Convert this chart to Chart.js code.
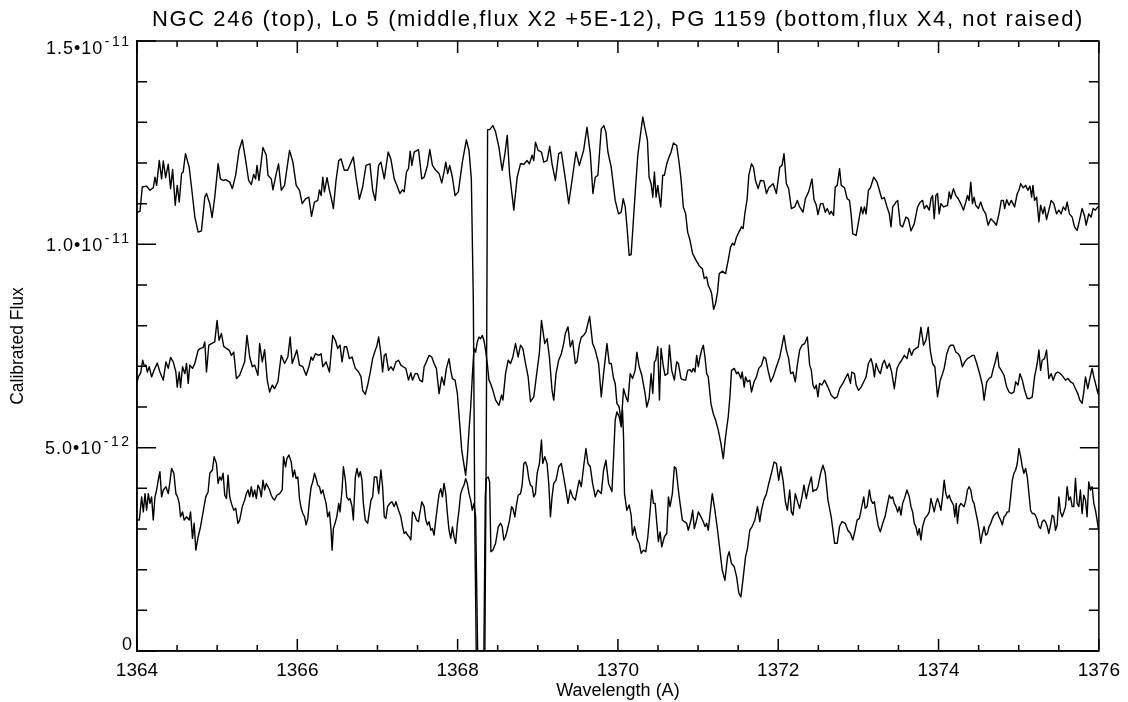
<!DOCTYPE html>
<html><head><meta charset="utf-8">
<script src="https://cdn.jsdelivr.net/npm/chart.js@4.4.1/dist/chart.umd.min.js"></script>
<style>html,body{margin:0;padding:0;background:#fff;}#c{display:block;}</style>
</head><body>
<canvas id="c" width="1128" height="702"></canvas>
<script>
const titleText = 'NGC 246 (top), Lo 5 (middle,flux X2 +5E-12), PG 1159 (bottom,flux X4, not raised)';
const xAxisTitle = 'Wavelength (A)';
const yAxisTitle = 'Calibrated Flux';
const xTickValues = [1364, 1366, 1368, 1370, 1372, 1374, 1376];
const yTickValues = [0, 5, 10, 15];               // flux in units of 1e-12
const yTickMantissa = ['0', '5.0\u202210', '1.0\u202210', '1.5\u202210'];
const yTickExponent = ['', '-12', '-11', '-11'];

// [wavelength (A), flux (1e-12)]
const ngc246 = [
[1364.000,10.79],[1364.037,10.81],[1364.066,11.41],[1364.120,11.43],[1364.162,11.33],[1364.203,11.39],[1364.224,11.65],[1364.245,11.45],[1364.278,12.06],[1364.307,11.61],[1364.328,12.05],[1364.357,11.64],[1364.390,11.97],[1364.419,11.37],[1364.444,11.84],[1364.477,10.96],[1364.502,11.45],[1364.527,11.04],[1364.556,11.74],[1364.576,11.78],[1364.605,12.23],[1364.651,11.90],[1364.680,11.41],[1364.722,10.67],[1364.763,10.30],[1364.804,10.33],[1364.846,11.16],[1364.867,11.25],[1364.908,11.00],[1364.937,10.66],[1364.970,11.16],[1365.012,11.98],[1365.041,11.61],[1365.074,11.57],[1365.107,11.59],[1365.157,11.53],[1365.190,11.37],[1365.231,11.70],[1365.273,12.31],[1365.314,12.57],[1365.356,12.06],[1365.393,11.57],[1365.426,11.47],[1365.455,11.72],[1365.480,11.61],[1365.497,11.94],[1365.522,11.57],[1365.571,12.38],[1365.613,12.19],[1365.634,11.70],[1365.675,11.61],[1365.696,11.34],[1365.737,11.74],[1365.766,11.98],[1365.800,11.33],[1365.841,11.45],[1365.903,12.31],[1365.945,12.02],[1365.986,11.45],[1366.027,11.33],[1366.061,11.00],[1366.102,11.12],[1366.144,11.16],[1366.177,10.69],[1366.214,11.04],[1366.255,11.08],[1366.276,11.34],[1366.297,11.20],[1366.318,11.65],[1366.338,11.29],[1366.371,11.64],[1366.400,11.33],[1366.421,11.16],[1366.450,10.88],[1366.483,11.57],[1366.517,12.06],[1366.546,12.10],[1366.587,11.82],[1366.628,11.82],[1366.699,12.15],[1366.732,11.65],[1366.774,11.11],[1366.815,11.41],[1366.857,11.94],[1366.906,11.98],[1366.940,11.33],[1366.973,11.08],[1367.014,11.94],
[1367.043,12.02],[1367.085,11.61],[1367.134,12.27],[1367.167,12.10],[1367.209,11.61],[1367.250,11.41],[1367.279,11.25],[1367.313,11.34],[1367.333,11.29],[1367.362,11.78],[1367.387,11.86],[1367.408,12.29],[1367.429,11.94],[1367.458,12.27],[1367.512,12.33],[1367.553,11.61],[1367.582,11.65],[1367.624,11.94],[1367.653,12.33],[1367.686,11.94],[1367.727,11.82],[1367.769,11.74],[1367.802,11.51],[1367.831,11.78],[1367.852,12.02],[1367.876,11.74],[1367.901,11.94],[1367.935,11.65],[1367.968,11.20],[1368.009,11.29],[1368.059,12.02],[1368.109,12.57],[1368.142,12.31],[1368.171,11.61],[1368.196,8.60],[1368.215,3.00],[1368.232,0.00],[1368.270,0.00],[1368.310,0.00],[1368.340,0.00],[1368.357,5.00],[1368.374,12.82],[1368.399,12.82],[1368.440,12.92],[1368.474,12.76],[1368.515,12.39],[1368.556,11.82],[1368.590,12.23],[1368.619,12.68],[1368.648,11.74],[1368.701,10.84],[1368.743,11.65],[1368.784,11.98],[1368.826,11.97],[1368.867,12.06],[1368.896,11.98],[1368.929,12.19],[1368.950,12.06],[1368.971,12.51],[1369.004,12.31],[1369.046,12.27],[1369.075,12.02],[1369.116,12.06],[1369.149,12.41],[1369.178,11.98],[1369.220,11.57],[1369.261,12.23],[1369.294,12.27],[1369.344,11.61],[1369.386,11.00],[1369.427,11.57],[1369.477,12.27],[1369.518,11.94],[1369.572,12.31],[1369.614,12.88],[1369.655,12.23],[1369.688,11.25],[1369.717,11.65],[1369.750,11.70],[1369.792,12.84],[1369.825,12.92],[1369.850,12.76],[1369.875,12.27],[1369.916,11.90],[1369.966,11.08],[1370.007,10.75],
[1370.041,10.79],[1370.066,11.12],[1370.091,10.92],[1370.116,10.36],[1370.140,9.73],[1370.165,9.75],[1370.194,10.63],[1370.223,11.49],[1370.248,12.19],[1370.277,12.64],[1370.310,13.13],[1370.339,12.84],[1370.368,12.56],[1370.389,11.65],[1370.414,11.49],[1370.435,11.16],[1370.455,11.78],[1370.476,11.16],[1370.497,11.45],[1370.518,11.12],[1370.534,10.92],[1370.559,11.70],[1370.580,11.70],[1370.609,11.98],[1370.638,12.15],[1370.663,12.27],[1370.692,12.49],[1370.733,12.43],[1370.762,12.02],[1370.787,11.61],[1370.816,10.92],[1370.845,10.75],[1370.870,10.30],[1370.899,10.10],[1370.932,9.77],[1370.974,9.61],[1371.015,9.47],[1371.053,9.40],[1371.077,9.16],[1371.107,9.20],[1371.127,8.99],[1371.156,8.87],[1371.169,8.79],[1371.194,8.40],[1371.218,8.54],[1371.243,8.83],[1371.264,9.28],[1371.301,9.34],[1371.343,9.28],[1371.376,9.61],[1371.405,9.93],[1371.430,10.03],[1371.451,9.98],[1371.480,10.18],[1371.509,10.30],[1371.542,10.43],[1371.562,10.39],[1371.583,10.75],[1371.612,11.12],[1371.633,11.70],[1371.666,11.98],[1371.691,11.90],[1371.716,11.57],[1371.749,11.37],[1371.778,11.57],[1371.820,11.56],[1371.853,11.25],[1371.882,11.39],[1371.936,11.49],[1371.977,11.25],[1372.019,11.90],[1372.048,11.94],[1372.072,12.23],[1372.101,11.49],[1372.130,11.37],[1372.164,10.88],[1372.205,10.92],[1372.238,11.08],[1372.267,10.92],[1372.309,10.79],[1372.338,11.12],[1372.379,11.29],[1372.421,11.61],[1372.446,11.10],[1372.475,10.96],[1372.495,10.73],[1372.528,11.00],[1372.558,11.00],[1372.587,10.79],[1372.611,10.88],[1372.641,10.74],[1372.661,10.81],[1372.690,10.71],[1372.711,11.41],[1372.736,11.45],[1372.765,11.86],[1372.786,11.45],[1372.827,11.39],[1372.860,11.12],
[1372.889,11.08],[1372.909,10.75],[1372.930,10.26],[1372.972,10.22],[1373.005,10.59],[1373.034,10.92],[1373.055,10.75],[1373.075,10.92],[1373.096,10.75],[1373.125,11.33],[1373.150,11.39],[1373.191,11.65],[1373.233,11.53],[1373.262,11.33],[1373.291,11.12],[1373.324,11.15],[1373.357,10.92],[1373.386,10.75],[1373.407,10.43],[1373.428,10.92],[1373.469,11.04],[1373.490,11.08],[1373.523,10.47],[1373.552,10.43],[1373.594,10.67],[1373.623,10.63],[1373.656,10.33],[1373.697,10.51],[1373.739,10.92],[1373.772,11.04],[1373.801,11.08],[1373.822,10.88],[1373.851,10.96],[1373.884,10.84],[1373.905,11.12],[1373.925,11.20],[1373.946,10.63],[1373.967,11.20],[1373.987,11.25],[1374.008,10.75],[1374.029,11.00],[1374.062,10.92],[1374.112,10.96],[1374.133,11.29],[1374.153,11.12],[1374.186,11.37],[1374.215,11.20],[1374.245,11.12],[1374.278,11.00],[1374.311,10.84],[1374.340,11.04],[1374.361,11.20],[1374.381,11.08],[1374.402,11.53],[1374.423,11.00],[1374.443,11.16],[1374.464,10.96],[1374.497,10.88],[1374.526,11.04],[1374.560,10.84],[1374.589,10.75],[1374.618,10.47],[1374.651,10.63],[1374.692,10.55],[1374.721,10.47],[1374.754,10.75],[1374.783,11.08],[1374.808,11.08],[1374.825,10.88],[1374.850,11.10],[1374.879,10.96],[1374.908,11.08],[1374.949,10.92],[1374.982,11.25],[1375.003,11.33],[1375.024,11.49],[1375.057,11.39],[1375.086,11.45],[1375.115,11.33],[1375.140,11.43],[1375.161,11.16],[1375.177,11.45],[1375.198,11.08],[1375.223,11.16],[1375.252,10.55],[1375.273,10.96],[1375.302,10.75],[1375.322,10.92],[1375.347,10.61],[1375.376,10.84],[1375.405,11.08],[1375.438,11.00],[1375.472,10.75],[1375.501,10.84],[1375.530,10.75],[1375.555,10.92],[1375.584,10.84],[1375.604,11.04],[1375.633,10.75],[1375.667,10.67],[1375.696,10.43],[1375.729,10.34],[1375.758,10.59],[1375.791,10.88],[1375.820,10.71],[1375.841,10.47],[1375.874,10.75],[1375.903,10.67],[1375.928,10.88],[1375.957,10.84],[1375.986,10.92],[1376.000,10.90]
];

const lo5 = [
[1364.000,6.60],[1364.017,6.74],[1364.046,6.84],[1364.071,7.15],[1364.087,7.03],[1364.112,7.03],[1364.129,6.86],[1364.153,6.99],[1364.182,6.74],[1364.212,6.90],[1364.253,7.08],[1364.286,6.86],[1364.328,6.66],[1364.361,7.11],[1364.390,6.95],[1364.419,7.22],[1364.452,7.11],[1364.485,6.86],[1364.502,6.49],[1364.527,6.86],[1364.543,6.48],[1364.568,6.99],[1364.597,6.82],[1364.618,7.07],[1364.639,6.58],[1364.659,7.03],[1364.692,6.95],[1364.721,7.07],[1364.763,7.40],[1364.792,7.44],[1364.825,7.46],[1364.846,7.60],[1364.867,6.86],[1364.896,7.52],[1364.929,7.56],[1364.970,7.60],[1364.999,8.13],[1365.024,7.64],[1365.053,7.81],[1365.082,7.49],[1365.116,7.44],[1365.149,7.40],[1365.178,7.27],[1365.207,7.35],[1365.240,6.70],[1365.281,6.78],[1365.343,7.11],[1365.372,7.76],[1365.406,7.23],[1365.439,6.99],[1365.468,7.03],[1365.489,6.90],[1365.509,6.78],[1365.530,7.56],[1365.563,7.11],[1365.592,7.41],[1365.625,6.66],[1365.654,6.37],[1365.688,6.54],[1365.716,6.45],[1365.758,6.62],[1365.799,7.27],[1365.841,7.07],[1365.882,7.23],[1365.911,7.72],[1365.936,7.07],[1365.965,7.23],[1365.994,7.40],[1366.027,7.03],[1366.069,6.99],[1366.110,6.78],[1366.144,6.99],[1366.173,7.23],[1366.193,7.15],[1366.226,7.31],[1366.268,7.27],[1366.297,7.31],[1366.318,6.99],[1366.359,7.11],[1366.401,6.86],[1366.442,7.76],[1366.475,7.64],[1366.504,7.44],[1366.533,7.52],[1366.558,7.11],[1366.587,7.48],[1366.616,7.48],[1366.649,7.19],[1366.683,7.23],[1366.724,6.95],[1366.765,6.86],[1366.795,6.74],[1366.815,6.41],[1366.848,6.31],[1366.878,6.54],[1366.907,6.82],[1366.940,7.19],[1366.973,7.40],[1366.990,7.48],[1367.015,7.72],
[1367.043,7.31],[1367.064,6.86],[1367.085,7.27],[1367.105,7.31],[1367.138,6.90],[1367.167,6.99],[1367.197,6.90],[1367.230,7.11],[1367.263,7.15],[1367.292,7.03],[1367.321,6.99],[1367.354,6.95],[1367.387,6.66],[1367.416,6.84],[1367.437,6.66],[1367.470,6.82],[1367.499,6.82],[1367.528,6.66],[1367.561,6.62],[1367.582,6.99],[1367.611,7.11],[1367.644,7.27],[1367.677,7.23],[1367.706,7.07],[1367.735,6.95],[1367.769,6.33],[1367.802,6.74],[1367.831,6.54],[1367.860,6.95],[1367.893,7.19],[1367.914,6.90],[1367.935,6.70],[1367.968,6.66],[1367.997,6.33],[1368.026,5.59],[1368.051,4.94],[1368.080,4.57],[1368.100,4.32],[1368.121,4.77],[1368.142,5.43],[1368.163,6.00],[1368.183,6.74],[1368.204,7.44],[1368.225,7.35],[1368.245,7.60],[1368.266,7.72],[1368.287,7.68],[1368.308,7.76],[1368.328,7.64],[1368.349,7.40],[1368.370,7.07],[1368.391,6.66],[1368.411,6.58],[1368.440,6.41],[1368.474,6.17],[1368.515,6.04],[1368.548,6.29],[1368.565,6.17],[1368.598,6.82],[1368.631,7.15],[1368.660,7.07],[1368.689,7.23],[1368.722,7.56],[1368.755,7.23],[1368.785,7.52],[1368.813,7.44],[1368.847,7.07],[1368.880,6.74],[1368.909,6.13],[1368.950,6.25],[1368.992,6.90],[1369.021,7.35],[1369.046,8.13],[1369.087,7.56],[1369.116,7.68],[1369.145,7.23],[1369.178,6.41],[1369.199,6.17],[1369.228,6.82],[1369.261,7.15],[1369.294,7.31],[1369.323,7.56],[1369.344,7.81],[1369.377,7.97],[1369.406,7.48],[1369.435,7.64],[1369.468,7.07],[1369.489,7.11],[1369.518,7.52],[1369.543,7.72],[1369.572,7.76],[1369.601,7.85],[1369.647,8.23],[1369.684,7.56],[1369.717,7.40],[1369.759,7.07],
[1369.792,6.25],[1369.821,6.82],[1369.863,7.56],[1369.892,7.07],[1369.917,7.07],[1369.946,6.70],[1369.966,6.58],[1369.987,6.09],[1370.016,6.00],[1370.041,5.59],[1370.070,6.45],[1370.099,6.25],[1370.124,6.13],[1370.153,6.82],[1370.182,6.70],[1370.215,6.90],[1370.236,7.35],[1370.265,6.99],[1370.298,6.78],[1370.339,6.33],[1370.360,6.00],[1370.389,6.21],[1370.414,6.82],[1370.435,6.33],[1370.455,7.11],[1370.472,7.15],[1370.497,7.48],[1370.518,6.17],[1370.538,7.44],[1370.567,6.99],[1370.588,6.78],[1370.621,6.82],[1370.642,7.52],[1370.671,6.90],[1370.704,6.66],[1370.733,7.11],[1370.754,7.07],[1370.787,6.70],[1370.816,6.67],[1370.845,6.66],[1370.870,6.90],[1370.899,6.92],[1370.920,6.86],[1370.941,6.95],[1370.961,6.86],[1370.982,7.27],[1371.003,6.99],[1371.024,7.23],[1371.044,7.40],[1371.065,7.52],[1371.086,7.23],[1371.107,6.82],[1371.127,6.74],[1371.160,6.09],[1371.189,5.84],[1371.218,5.68],[1371.252,5.43],[1371.285,5.10],[1371.314,4.73],[1371.343,5.27],[1371.376,5.76],[1371.397,6.25],[1371.417,6.90],[1371.451,6.95],[1371.480,6.82],[1371.500,6.86],[1371.534,6.70],[1371.550,6.86],[1371.575,6.49],[1371.592,6.74],[1371.616,6.62],[1371.645,6.66],[1371.666,6.37],[1371.699,6.62],[1371.728,6.74],[1371.757,6.95],[1371.791,7.03],[1371.820,7.23],[1371.844,7.19],[1371.873,6.90],[1371.907,6.62],[1371.936,6.74],[1371.977,6.99],[1372.019,7.23],[1372.048,7.52],[1372.072,7.76],[1372.101,7.40],[1372.130,7.19],[1372.155,6.82],[1372.184,6.86],[1372.213,6.62],[1372.238,7.03],[1372.267,7.40],[1372.296,7.52],[1372.329,7.56],[1372.363,7.72],[1372.392,7.03],[1372.413,6.90],[1372.433,6.54],[1372.454,6.45],[1372.475,6.54],[1372.495,6.25],[1372.516,6.58],[1372.545,6.54],[1372.578,6.66],[1372.620,6.49],[1372.661,6.29],[1372.703,6.21],[1372.736,6.25],[1372.765,6.45],[1372.806,6.58],[1372.836,6.70],[1372.868,6.82],
[1372.901,6.58],[1372.918,6.86],[1372.951,6.82],[1372.972,6.54],[1373.001,6.41],[1373.034,6.49],[1373.067,6.62],[1373.096,6.74],[1373.125,7.07],[1373.158,7.19],[1373.179,7.03],[1373.200,6.74],[1373.220,7.07],[1373.249,6.90],[1373.274,6.82],[1373.303,7.07],[1373.324,7.15],[1373.357,6.95],[1373.386,7.07],[1373.415,6.86],[1373.448,6.45],[1373.482,6.95],[1373.511,7.07],[1373.540,7.15],[1373.573,7.27],[1373.606,7.19],[1373.635,7.44],[1373.664,7.27],[1373.689,7.40],[1373.718,7.44],[1373.747,7.48],[1373.780,7.96],[1373.813,7.52],[1373.842,7.64],[1373.871,7.96],[1373.896,7.40],[1373.925,7.07],[1373.954,6.99],[1373.987,6.25],[1374.021,6.66],[1374.050,6.82],[1374.070,6.95],[1374.103,7.31],[1374.133,7.48],[1374.153,7.52],[1374.186,7.52],[1374.215,7.35],[1374.245,7.31],[1374.269,7.23],[1374.298,6.99],[1374.327,7.11],[1374.361,7.19],[1374.394,7.23],[1374.423,7.27],[1374.444,7.27],[1374.477,7.07],[1374.518,6.78],[1374.547,6.54],[1374.568,6.17],[1374.601,6.62],[1374.630,6.70],[1374.659,6.74],[1374.684,6.95],[1374.713,7.15],[1374.734,7.35],[1374.754,6.99],[1374.783,6.90],[1374.817,6.78],[1374.850,6.49],[1374.879,6.37],[1374.908,6.33],[1374.941,6.37],[1374.962,6.62],[1374.991,6.54],[1375.016,6.82],[1375.045,6.66],[1375.074,6.41],[1375.107,6.21],[1375.140,6.21],[1375.169,6.25],[1375.198,6.74],[1375.231,7.07],[1375.252,7.40],[1375.273,6.90],[1375.293,7.15],[1375.322,7.19],[1375.347,7.40],[1375.376,6.70],[1375.405,6.82],[1375.430,6.66],[1375.459,6.82],[1375.488,6.86],[1375.521,6.82],[1375.555,6.74],[1375.584,6.66],[1375.613,6.70],[1375.646,6.62],[1375.679,6.58],[1375.708,6.45],[1375.737,6.33],[1375.762,6.17],[1375.791,6.09],[1375.812,6.37],[1375.833,6.74],[1375.862,6.45],[1375.887,6.70],[1375.916,6.95],[1375.937,6.74],[1375.958,6.58],[1375.988,6.33],[1376.000,6.50]
];

const pg1159 = [
[1364.000,3.22],[1364.029,3.22],[1364.058,3.79],[1364.079,3.42],[1364.100,3.87],[1364.120,3.46],[1364.141,3.87],[1364.162,3.63],[1364.182,3.79],[1364.203,3.22],[1364.224,3.79],[1364.245,3.96],[1364.265,4.20],[1364.286,4.41],[1364.307,3.79],[1364.328,3.96],[1364.361,4.04],[1364.390,3.87],[1364.411,4.16],[1364.431,4.49],[1364.460,4.37],[1364.485,3.87],[1364.506,3.79],[1364.527,3.63],[1364.543,3.30],[1364.568,3.42],[1364.589,3.22],[1364.618,3.30],[1364.651,3.22],[1364.668,3.42],[1364.692,2.77],[1364.713,3.14],[1364.734,2.48],[1364.763,2.81],[1364.792,3.05],[1364.825,3.42],[1364.858,3.79],[1364.887,3.91],[1364.908,4.37],[1364.941,4.45],[1364.962,4.78],[1364.991,4.61],[1365.012,4.12],[1365.032,4.28],[1365.053,4.20],[1365.074,4.37],[1365.095,3.83],[1365.116,3.75],[1365.136,4.32],[1365.157,3.79],[1365.178,3.63],[1365.207,3.46],[1365.231,3.51],[1365.260,3.14],[1365.281,3.22],[1365.314,3.55],[1365.343,3.71],[1365.364,3.87],[1365.385,3.96],[1365.406,3.79],[1365.426,4.04],[1365.447,3.79],[1365.468,3.96],[1365.489,3.75],[1365.509,4.08],[1365.530,3.99],[1365.551,3.79],[1365.571,4.20],[1365.592,3.96],[1365.613,4.12],[1365.634,4.04],[1365.654,3.96],[1365.675,3.83],[1365.696,3.75],[1365.716,3.71],[1365.746,3.83],[1365.779,3.87],[1365.812,3.96],[1365.828,4.78],[1365.853,4.53],[1365.870,4.73],[1365.895,4.82],[1365.924,4.65],[1365.945,4.28],[1365.965,4.45],[1365.986,4.24],[1366.007,4.28],[1366.027,3.75],[1366.048,3.51],[1366.069,3.38],[1366.090,3.30],[1366.110,3.10],[1366.131,3.26],[1366.152,3.71],[1366.173,4.04],[1366.193,4.16],[1366.214,4.37],[1366.235,4.24],[1366.255,4.08],[1366.276,4.04],[1366.297,3.87],[1366.318,3.96],[1366.338,3.79],[1366.359,3.63],[1366.380,3.30],[1366.401,3.42],[1366.421,2.97],[1366.434,2.48],[1366.450,3.01],[1366.471,3.14],[1366.492,3.30],[1366.517,3.63],[1366.533,3.42],[1366.558,3.96],[1366.575,4.53],[1366.600,4.20],[1366.616,3.79],[1366.641,3.71],[1366.658,3.75],[1366.683,3.55],[1366.699,3.22],[1366.724,4.28],[1366.745,4.49],[1366.765,4.28],[1366.786,4.41],[1366.807,4.20],[1366.824,3.63],[1366.848,3.22],[1366.878,3.14],[1366.898,3.42],[1366.919,3.71],[1366.940,3.79],[1366.961,4.28],[1366.990,4.28],[1367.015,3.87],
[1367.043,4.45],[1367.064,4.04],[1367.085,3.30],[1367.105,3.26],[1367.126,3.55],[1367.155,3.63],[1367.180,3.67],[1367.209,3.55],[1367.230,3.67],[1367.263,3.46],[1367.292,3.30],[1367.313,3.06],[1367.333,2.89],[1367.354,2.93],[1367.375,2.85],[1367.395,2.81],[1367.416,2.73],[1367.437,3.42],[1367.458,3.38],[1367.487,3.22],[1367.512,3.18],[1367.528,3.38],[1367.553,3.67],[1367.582,3.55],[1367.603,3.22],[1367.624,3.10],[1367.644,3.18],[1367.665,2.97],[1367.686,3.01],[1367.706,2.85],[1367.727,3.22],[1367.748,3.55],[1367.769,3.87],[1367.789,3.99],[1367.810,3.79],[1367.831,4.12],[1367.852,3.87],[1367.872,3.38],[1367.893,2.97],[1367.914,2.77],[1367.935,3.05],[1367.955,2.81],[1367.976,2.65],[1367.997,3.14],[1368.017,3.46],[1368.038,3.87],[1368.059,3.99],[1368.080,4.08],[1368.100,4.24],[1368.121,4.12],[1368.142,3.87],[1368.163,3.71],[1368.183,3.46],[1368.204,3.63],[1368.225,3.30],[1368.250,0.00],[1368.291,0.00],[1368.328,0.00],[1368.345,3.79],[1368.357,4.24],[1368.382,4.28],[1368.399,4.16],[1368.415,2.44],[1368.440,2.48],[1368.474,2.65],[1368.507,3.05],[1368.536,3.14],[1368.556,3.06],[1368.577,2.73],[1368.598,2.81],[1368.619,2.97],[1368.648,3.22],[1368.673,3.55],[1368.689,3.51],[1368.714,3.30],[1368.731,3.55],[1368.755,3.83],[1368.785,3.87],[1368.805,4.08],[1368.826,4.61],[1368.847,4.65],[1368.867,4.53],[1368.888,4.24],[1368.909,4.08],[1368.930,4.04],[1368.950,3.79],[1368.971,3.87],[1368.992,4.37],[1369.021,4.61],[1369.046,5.19],[1369.062,4.61],[1369.087,4.78],[1369.116,4.61],[1369.137,4.12],[1369.158,3.30],[1369.178,3.79],[1369.199,4.12],[1369.228,4.20],[1369.261,4.53],[1369.294,4.61],[1369.323,4.28],[1369.344,4.04],[1369.377,3.63],[1369.406,3.96],[1369.435,3.79],[1369.468,3.71],[1369.501,4.04],[1369.518,4.20],[1369.543,4.04],[1369.572,4.53],[1369.601,4.98],[1369.626,4.61],[1369.655,4.53],[1369.684,4.12],[1369.717,3.79],[1369.750,3.96],
[1369.792,3.87],[1369.821,4.45],[1369.850,4.69],[1369.883,4.12],[1369.925,3.92],[1369.946,4.78],[1369.966,5.68],[1369.987,5.88],[1370.016,5.76],[1370.041,5.51],[1370.057,5.92],[1370.070,5.27],[1370.082,3.87],[1370.111,3.46],[1370.140,3.59],[1370.165,3.34],[1370.182,2.85],[1370.207,3.06],[1370.236,2.77],[1370.265,2.65],[1370.290,2.40],[1370.319,2.48],[1370.348,2.44],[1370.373,2.81],[1370.402,3.46],[1370.422,3.96],[1370.443,3.63],[1370.464,3.63],[1370.485,3.14],[1370.505,2.69],[1370.526,2.93],[1370.547,2.56],[1370.580,2.81],[1370.609,2.89],[1370.630,3.79],[1370.650,3.55],[1370.679,3.87],[1370.704,4.53],[1370.725,4.49],[1370.754,3.96],[1370.775,3.63],[1370.804,3.22],[1370.829,3.18],[1370.858,3.14],[1370.878,2.97],[1370.912,3.22],[1370.932,3.46],[1370.953,3.01],[1370.982,3.22],[1371.003,3.42],[1371.036,3.30],[1371.065,3.18],[1371.086,3.06],[1371.107,3.14],[1371.127,2.97],[1371.148,3.34],[1371.177,3.87],[1371.210,3.46],[1371.243,2.97],[1371.272,2.48],[1371.301,1.99],[1371.335,1.74],[1371.368,2.32],[1371.388,2.44],[1371.417,2.15],[1371.451,2.07],[1371.480,1.83],[1371.509,1.42],[1371.534,1.33],[1371.562,1.79],[1371.592,2.32],[1371.616,2.52],[1371.645,2.97],[1371.674,3.06],[1371.708,3.22],[1371.741,3.55],[1371.770,3.18],[1371.791,3.46],[1371.820,3.71],[1371.853,3.87],[1371.882,4.12],[1371.915,4.37],[1371.948,4.65],[1371.977,4.61],[1372.006,4.20],[1372.031,4.53],[1372.060,4.20],[1372.089,3.67],[1372.114,3.46],[1372.143,3.96],[1372.164,3.42],[1372.184,3.34],[1372.213,3.87],[1372.247,3.63],[1372.267,3.51],[1372.296,3.79],[1372.321,4.08],[1372.350,3.75],[1372.379,4.04],[1372.413,4.28],[1372.433,3.92],[1372.454,3.96],[1372.475,3.96],[1372.495,4.04],[1372.528,4.37],[1372.558,4.57],[1372.587,4.37],[1372.620,3.71],[1372.661,3.30],[1372.703,2.65],[1372.736,2.65],[1372.765,3.06],[1372.794,3.18],[1372.836,3.14],[1372.868,2.97],
[1372.901,2.89],[1372.930,2.73],[1372.959,2.97],[1372.984,3.22],[1373.013,3.26],[1373.042,3.55],[1373.067,3.79],[1373.084,3.51],[1373.108,3.55],[1373.137,3.96],[1373.158,3.71],[1373.179,3.63],[1373.200,3.67],[1373.220,3.38],[1373.249,3.06],[1373.274,2.93],[1373.303,3.14],[1373.332,3.30],[1373.357,3.55],[1373.386,3.83],[1373.407,3.75],[1373.428,3.79],[1373.448,3.63],[1373.469,3.55],[1373.490,3.42],[1373.511,3.55],[1373.531,3.34],[1373.552,3.63],[1373.581,3.79],[1373.606,3.96],[1373.635,3.79],[1373.656,3.55],[1373.677,3.42],[1373.697,3.14],[1373.718,3.06],[1373.739,2.85],[1373.759,3.01],[1373.780,2.73],[1373.801,3.06],[1373.830,3.26],[1373.863,3.34],[1373.884,3.42],[1373.905,3.75],[1373.925,3.59],[1373.946,3.42],[1373.967,3.63],[1373.987,3.75],[1374.008,3.63],[1374.029,3.46],[1374.050,3.79],[1374.070,4.20],[1374.091,3.87],[1374.112,3.75],[1374.133,3.83],[1374.153,3.71],[1374.186,3.59],[1374.203,3.30],[1374.220,3.63],[1374.236,3.14],[1374.257,3.55],[1374.278,3.63],[1374.298,3.59],[1374.319,3.55],[1374.340,3.71],[1374.361,3.96],[1374.381,4.04],[1374.402,3.96],[1374.423,3.71],[1374.443,3.63],[1374.464,3.42],[1374.485,3.22],[1374.506,2.97],[1374.526,2.65],[1374.547,2.89],[1374.568,3.06],[1374.589,2.85],[1374.609,2.89],[1374.630,3.06],[1374.651,3.14],[1374.672,3.26],[1374.692,3.34],[1374.713,3.38],[1374.734,3.42],[1374.754,3.30],[1374.775,3.22],[1374.796,3.10],[1374.817,3.30],[1374.837,3.34],[1374.858,3.42],[1374.879,3.42],[1374.899,3.79],[1374.920,4.20],[1374.941,4.37],[1374.962,4.45],[1374.982,4.61],[1375.003,4.98],[1375.024,4.78],[1375.045,4.53],[1375.065,4.37],[1375.086,4.49],[1375.107,4.28],[1375.128,3.87],[1375.148,3.46],[1375.169,3.38],[1375.190,3.38],[1375.210,3.34],[1375.231,3.22],[1375.252,3.06],[1375.273,3.01],[1375.293,3.18],[1375.314,3.22],[1375.335,3.18],[1375.356,3.06],[1375.376,2.89],[1375.397,3.10],[1375.418,3.34],[1375.438,3.30],[1375.459,2.97],[1375.480,3.10],[1375.501,3.79],[1375.521,3.42],[1375.542,3.30],[1375.563,3.42],[1375.584,3.55],[1375.604,4.04],[1375.625,3.71],[1375.646,3.79],[1375.667,3.55],[1375.687,3.55],[1375.708,4.24],[1375.729,3.63],[1375.750,3.55],[1375.770,3.96],[1375.791,3.38],[1375.812,3.83],[1375.833,3.71],[1375.853,3.30],[1375.874,4.16],[1375.895,3.96],[1375.916,4.04],[1375.937,3.63],[1375.958,3.46],[1375.978,3.22],[1375.999,2.93]
];

const FONT = "'Liberation Sans', Arial, Helvetica, sans-serif";
const seriesList = [ngc246, lo5, pg1159];

const frameTicks = {
  id: 'frameTicks',
  afterDatasetsDraw(chart) {
    // the title (drawn after the datasets) uses the wide spacing of the original
    chart.ctx.letterSpacing = '1.6px';
  },
  afterDraw(chart) {
    const {ctx, chartArea: a, scales} = chart;
    ctx.letterSpacing = '0px';
    const x = scales.x, y = scales.y;
    ctx.save();
    ctx.strokeStyle = '#000';
    ctx.lineWidth = 1.5;
    ctx.strokeRect(a.left, a.top, a.right - a.left, a.bottom - a.top);
    ctx.beginPath();
    x.ticks.forEach(t => {
      const px = x.getPixelForValue(t.value);
      const len = xTickValues.includes(t.value) ? 12 : 6;
      ctx.moveTo(px, a.bottom); ctx.lineTo(px, a.bottom - len);
      ctx.moveTo(px, a.top); ctx.lineTo(px, a.top + len);
    });
    y.ticks.forEach(t => {
      const py = y.getPixelForValue(t.value);
      const len = yTickValues.includes(t.value) ? 19 : 10;
      ctx.moveTo(a.left, py); ctx.lineTo(a.left + len, py);
      ctx.moveTo(a.right, py); ctx.lineTo(a.right - len, py);
    });
    ctx.stroke();
    ctx.fillStyle = '#000';
    ctx.textBaseline = 'alphabetic';
    ctx.textAlign = 'right';
    yTickValues.forEach((v, i) => {
      const py = y.getPixelForValue(v);
      const capH = 12.5;
      const cy = Math.min(Math.max(py, a.top + capH / 2), a.bottom - capH / 2 - 1);
      const base = cy + capH / 2;
      let right = a.left - 5;
      let ew = 0;
      if (yTickExponent[i]) {
        right = a.left - 8;
        ctx.font = '14px ' + FONT;
        ctx.letterSpacing = '2.5px';
        ew = ctx.measureText(yTickExponent[i]).width;
        ctx.fillText(yTickExponent[i], right + 2.5, base - 8);
      }
      ctx.font = '18px ' + FONT;
      ctx.letterSpacing = '1px';
      ctx.fillText(yTickMantissa[i], right - ew + 1, base);
    });
    ctx.letterSpacing = '0px';
    ctx.restore();
  }
};

new Chart(document.getElementById('c'), {
  type: 'line',
  data: {
    datasets: seriesList.map(s => ({
      data: s.map(p => ({x: p[0], y: p[1]})),
      borderColor: '#000',
      borderWidth: 1.4,
      borderJoinStyle: 'round',
      pointRadius: 0,
      tension: 0,
      fill: false
    }))
  },
  options: {
    responsive: false,
    devicePixelRatio: 1,
    animation: false,
    layout: {padding: {left: 0, right: 26, top: 0, bottom: 0}},
    plugins: {legend: {display: false}, tooltip: {enabled: false}, title: {display: false}},
    scales: {
      x: {
        type: 'linear', position: 'bottom', min: 1364, max: 1376,
        grid: {display: false, drawTicks: false},
        border: {display: true, color: '#000', width: 1.5},
        ticks: {
          stepSize: 0.5, autoSkip: false, maxRotation: 0, padding: 8, color: '#000',
          font: {family: FONT, size: 19},
          callback: v => xTickValues.includes(v) ? String(v) : ''
        },
        title: {display: true, text: xAxisTitle, color: '#000', font: {family: FONT, size: 18}, padding: {top: 0, bottom: 0}},
        afterFit: s => { s.height = 51; }
      },
      x2: {
        type: 'linear', position: 'top', min: 1364, max: 1376,
        grid: {display: false, drawTicks: false, z: 1},
        border: {display: false},
        ticks: {display: false},
        title: {display: true, text: titleText, color: '#000', font: {family: FONT, size: 22}, padding: {top: 7, bottom: 0}},
        afterFit: s => { s.height = 41; }
      },
      y: {
        type: 'linear', min: 0, max: 15,
        grid: {display: false, drawTicks: false},
        border: {display: true, color: '#000', width: 1.5},
        ticks: {stepSize: 1, display: false},
        title: {display: true, text: yAxisTitle, color: '#000', font: {family: FONT, size: 17.5}, padding: {top: 8, bottom: 0}},
        afterFit: s => { s.width = 137; }
      }
    }
  },
  plugins: [frameTicks]
});
</script>
</body></html>
